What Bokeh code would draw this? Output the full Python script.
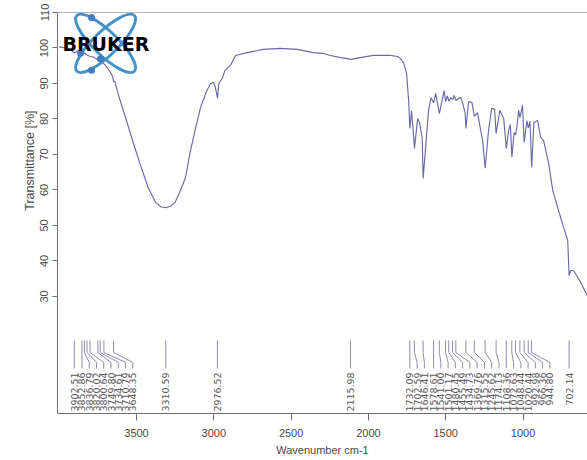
import numpy as np
from bokeh.plotting import figure
from bokeh.models import Range1d, FixedTicker, Span, ColumnDataSource, Title
from bokeh.core.properties import value
from bokeh.embed import file_html
from bokeh.resources import INLINE

# ---------------- data ----------------
wavenumber = [4000, 3960, 3930, 3902, 3880, 3852, 3836, 3820, 3800, 3780, 3749, 3734, 3720, 3710,
              3690, 3670, 3655, 3648, 3640, 3616, 3571, 3526, 3474, 3422, 3377, 3340, 3310, 3280,
              3250, 3215, 3183, 3151, 3120, 3086, 3050, 3021, 3002, 2990, 2976, 2968, 2944, 2930,
              2912, 2893, 2860, 2783, 2680, 2570, 2460, 2357, 2300, 2246, 2180, 2136, 2116, 2090,
              2052, 1968, 1921, 1858, 1811, 1793, 1773, 1753, 1740, 1732, 1721, 1702, 1682, 1669,
              1652, 1646, 1630, 1611, 1595, 1578, 1565, 1541, 1520, 1510, 1501, 1490, 1480, 1468,
              1455, 1445, 1434, 1404, 1391, 1375, 1369, 1352, 1330, 1315, 1294, 1274, 1261, 1245,
              1223, 1203, 1184, 1174, 1150, 1125, 1108, 1093, 1082, 1072, 1058, 1048, 1041, 1028,
              1020, 1003, 993, 975, 966, 955, 944, 930, 906, 886, 867, 834, 808, 776, 757, 737,
              711, 702, 692, 673, 627, 595, 575]
transmittance = [100.3, 100.0, 99.6, 98.6, 99.2, 98.3, 98.6, 98.0, 97.6, 97.5, 96.6, 96.3, 96.0, 95.5,
                 94.5, 93.2, 92.0, 90.5, 90.6, 86.6, 80.4, 74.0, 66.9, 60.4, 56.5, 55.2, 55.0, 55.4,
                 56.5, 59.9, 63.5, 71.1, 77.0, 83.2, 87.5, 90.0, 90.3, 89.0, 85.8, 90.0, 91.5, 93.5,
                 94.4, 95.0, 97.9, 98.7, 99.6, 99.9, 99.6, 98.7, 98.5, 97.9, 97.3, 97.0, 96.8, 97.0,
                 97.3, 97.9, 97.9, 97.9, 97.6, 97.0, 95.9, 92.8, 85.2, 77.3, 82.4, 71.7, 80.1, 79.0,
                 74.5, 63.2, 72.0, 82.4, 86.0, 84.5, 87.2, 81.5, 86.1, 88.0, 84.9, 86.5, 85.0, 86.0,
                 85.5, 86.6, 85.2, 86.1, 84.6, 81.8, 77.3, 84.9, 84.6, 80.7, 81.8, 76.8, 73.9, 66.1,
                 76.8, 83.0, 82.7, 75.9, 82.4, 80.1, 71.7, 76.8, 78.5, 69.2, 76.2, 75.5, 77.3, 82.4,
                 80.4, 83.8, 73.4, 79.5, 77.5, 79.3, 66.3, 79.0, 79.6, 74.8, 73.9, 67.5, 59.9, 55.1,
                 52.3, 49.4, 45.8, 35.9, 37.3, 37.3, 34.0, 31.1, 29.5]

peak_positions = [3902.51, 3852.86, 3836.79, 3820.02, 3800.64, 3749.80, 3734.61, 3710.79, 3648.35,
                  3310.59, 2976.52, 2115.98,
                  1732.09, 1702.59, 1646.41, 1578.61, 1541.00, 1501.17, 1480.45, 1455.49, 1434.73,
                  1369.76, 1315.55, 1245.62, 1174.13, 1108.36, 1072.63, 1048.44, 1020.44, 992.98,
                  966.36, 944.80, 702.14]
peak_labels = ["3902.51", "3852.86", "3836.79", "3820.02", "3800.64", "3749.80", "3734.61", "3710.79",
               "3648.35", "3310.59", "2976.52", "2115.98",
               "1732.09", "1702.59", "1646.41", "1578.61", "1541.00", "1501.17", "1480.45", "1455.49",
               "1434.73", "1369.76", "1315.55", "1245.62", "1174.13", "1108.36", "1072.63", "1048.44",
               "1020.44", "992.98", "966.36", "944.80", "702.14"]

x_ticks = [3500, 3000, 2500, 2000, 1500, 1000]
y_ticks = [30, 40, 50, 60, 70, 80, 90, 100, 110]

# ---------------- figure ----------------
AXIS_COL = "#6e6e6e"
TEXT_COL = "#4a4a4a"
FONT = "Liberation Sans"

p = figure(width=587, height=460, x_range=Range1d(4011, 583), y_range=Range1d(-3, 110),
           output_backend="svg", toolbar_location=None,
           min_border_left=57, min_border_right=0, min_border_top=12, min_border_bottom=47)
p.background_fill_color = "white"
p.border_fill_color = "white"
p.outline_line_color = None
p.grid.visible = False

p.xaxis.ticker = FixedTicker(ticks=x_ticks)
p.xaxis.major_tick_out = 7
p.xaxis.major_tick_in = 0
p.xaxis.minor_tick_line_color = None
p.xaxis.major_label_standoff = 8
p.xaxis.axis_label = "Wavenumber cm-1"
p.xaxis.axis_label_standoff = 4

p.yaxis.ticker = FixedTicker(ticks=y_ticks)
p.yaxis.major_tick_out = 5
p.yaxis.major_tick_in = 0
p.yaxis.minor_tick_line_color = None
p.yaxis.major_label_orientation = "vertical"
p.yaxis.major_label_standoff = 4

for ax in (p.xaxis[0], p.yaxis[0]):
    ax.axis_line_color = AXIS_COL
    ax.major_tick_line_color = AXIS_COL
    ax.major_label_text_color = TEXT_COL
    ax.major_label_text_font = FONT
    ax.major_label_text_font_size = "11px"
    ax.axis_label_text_color = TEXT_COL
    ax.axis_label_text_font = FONT
    ax.axis_label_text_font_size = "11px"
    ax.axis_label_text_font_style = "normal"

# y-axis title, placed higher than the frame centre as in the original instrument plot
p.add_layout(Title(text="Transmittance [%]", align="right", offset=98, standoff=2,
                   text_font=FONT, text_font_size="12.5px", text_font_style="normal",
                   text_color=TEXT_COL), "left")

p.add_layout(Span(location=110, dimension="width", line_color=AXIS_COL, line_width=1))

# spectrum
p.line(wavenumber, transmittance, line_color="#6a6aa8", line_width=1.15)

# peak annotation: connectors and labels
gap = 47.0
label_x = []
for i, w in enumerate(peak_positions):
    if i == 0:
        label_x.append(w)
    else:
        label_x.append(min(w, label_x[-1] - gap))

y_top, y_bend1, y_bend2, y_bottom, y_text = 17.6, 14.2, 11.4, 9.7, 8.6
xs = [[w, w, lx, lx] for w, lx in zip(peak_positions, label_x)]
ys = [[y_top, y_bend1, y_bend2, y_bottom] for _ in peak_positions]
p.multi_line(xs, ys, line_color="#8c8cb0", line_width=1)

src = ColumnDataSource(dict(x=label_x, y=[y_text] * len(label_x), t=peak_labels))
p.text(x="x", y="y", text="t", source=src, angle=np.pi / 2, text_align="right",
       text_baseline="middle", text_font=value("DejaVu Sans"), text_font_size="9.5px",
       text_color="#5a5a5a")

# BRUKER logo (decoration)
logo_cx, logo_cy = 3700, 101.3
p.ellipse(x=[logo_cx, logo_cx], y=[logo_cy, logo_cy], width=[80, 80], height=[24, 24],
          angle=[0.77, -0.77], width_units="screen", height_units="screen",
          fill_color=None, line_color="#4592c6", line_width=3)
p.scatter(x=[3791, 3791, 3862, 3733], y=[108.6, 93.7, 98.5, 97.0], size=7,
          fill_color="#3f7fc0", line_color=None)
p.text(x=[3979], y=[101.1], text=["BRUKER"], text_align="left", text_baseline="middle",
       text_font=value("DejaVu Sans"), text_font_style="bold", text_font_size="19px",
       text_color="black")

open("out.html", "w").write(file_html(p, INLINE))
